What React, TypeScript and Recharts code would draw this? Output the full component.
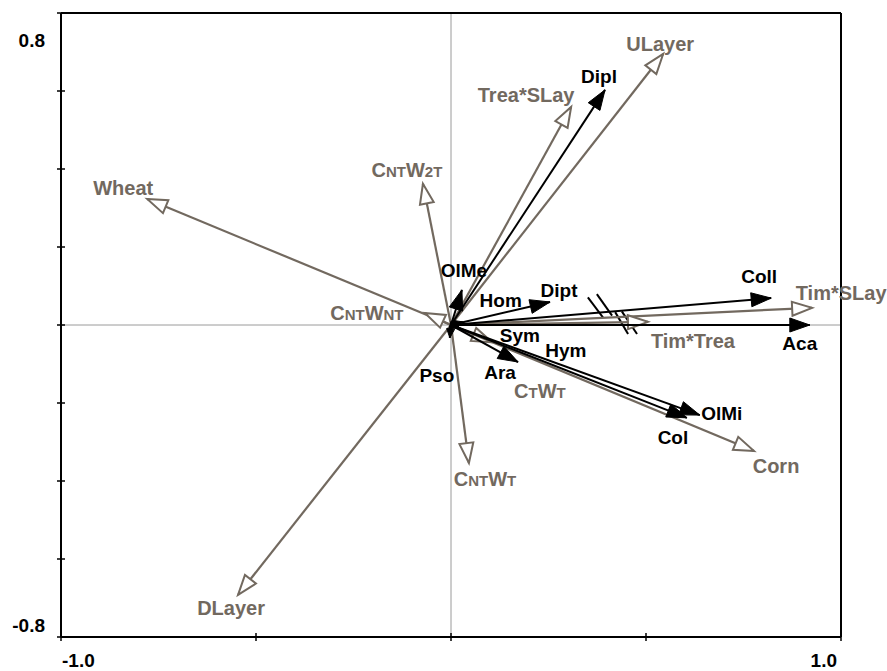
import React from 'react';
import { ScatterChart, Scatter, XAxis, YAxis, ReferenceLine, CartesianGrid } from 'recharts';

const FONT = '"Liberation Sans", Arial, Helvetica, sans-serif';
const GRAY = '#72695f';
const BLACK = '#000000';

// Environmental variables (grey arrows, open heads). {..} marks a subscript.
const envNames = ['Wheat', 'ULayer', 'Trea*SLay', 'C{NT}W{2T}', 'C{NT}W{NT}', 'C{NT}W{T}', 'C{T}W{T}', 'DLayer', 'Corn', 'Tim*SLay', 'Tim*Trea'];
const envX = [-0.779, 0.544, 0.308, -0.072, -0.067, 0.046, 0.105, -0.546, 0.777, 0.926, 0.505];
const envY = [0.323, 0.695, 0.559, 0.362, 0.031, -0.354, -0.044, -0.692, -0.323, 0.044, 0.008];

// Species (black arrows, filled heads)
const spNames = ['Dipl', 'OlMe', 'Hom', 'Dipt', 'Coll', 'Aca', 'Sym', 'Hym', 'OlMi', 'Col', 'Ara', 'Pso'];
const spX = [0.395, 0.028, 0.03, 0.254, 0.821, 0.92, 0.02, 0.02, 0.638, 0.605, 0.172, -0.003];
const spY = [0.603, 0.09, 0.008, 0.059, 0.069, 0.0, -0.005, -0.008, -0.231, -0.238, -0.095, -0.033];

// Axis ticks
const xTicks = [-1, -0.5, 0, 0.5, 1];
const xTickLabels = ['-1.0', '', '', '', '1.0'];
const yTicks = [-0.8, -0.6, -0.4, -0.2, 0, 0.2, 0.4, 0.6, 0.8];
const yTickLabels = ['-0.8', '', '', '', '', '', '', '', '0.8'];

// Break marks (//) on the long arrows
const breakX1 = [0.351, 0.374, 0.421, 0.438];
const breakY1 = [0.071, 0.079, 0.033, 0.035];
const breakX2 = [0.39, 0.413, 0.454, 0.477];
const breakY2 = [0.019, 0.024, -0.023, -0.023];

// Label placement (pixel offsets from arrow tip) — styling only
const envLabelDx = [-24, -3, -45, -16, -58, 16, 48, -7, 22, 29, 45];
const envLabelDy = [-11, -10, -12, -14, 0, 16, 49, 13, 15, -15, 19];
const spLabelDx = [-6, 2, 38, 9, -12, -10, 61, 107, 22, -14, -18, -13];
const spLabelDy = [-14, -20, -22, -12, -22, 18, 8, 22, -2, 19, 10, 37];

type Pt = { x: number; y: number };

const renderHead = (p: any, color: string, open: boolean) => {
  const { cx, cy, payload } = p;
  if (!payload || (payload.x === 0 && payload.y === 0)) return <g />;
  const ux0 = payload.x;
  const uy0 = -payload.y;
  const l = Math.hypot(ux0, uy0);
  const ux = ux0 / l;
  const uy = uy0 / l;
  const L = l < 0.05 ? 9 : 20;
  const W = l < 0.05 ? 4 : 7;
  const bx = cx - ux * L;
  const by = cy - uy * L;
  const pts = `${cx},${cy} ${bx - uy * W},${by + ux * W} ${bx + uy * W},${by - ux * W}`;
  return open ? (
    <polygon points={pts} fill="#ffffff" stroke={color} strokeWidth={2} strokeLinejoin="miter" />
  ) : (
    <polygon points={pts} fill={color} stroke={color} strokeWidth={1} />
  );
};

const renderLabel = (p: any) => {
  const { cx, cy, payload } = p;
  if (!payload) return <g />;
  const parts: string[] = String(payload.name).split(/(\{[^}]*\})/).filter(Boolean);
  return (
    <text
      x={cx + payload.dx}
      y={cy + payload.dy + 7}
      textAnchor="middle"
      fill={payload.color}
      fontSize={payload.size}
      fontWeight="bold"
      fontFamily={FONT}
    >
      {parts.map((s, i) =>
        s.startsWith('{') ? (
          <tspan key={i} fontSize={15}>
            {s.slice(1, -1)}
          </tspan>
        ) : (
          <tspan key={i}>{s}</tspan>
        )
      )}
    </text>
  );
};

const XTick = (p: any) => {
  const { x, y, index } = p;
  const lab = xTickLabels[index];
  return (
    <g>
      <line x1={x} x2={x} y1={y - 4} y2={y + 4} stroke={BLACK} strokeWidth={1.5} />
      {lab ? (
        <text
          x={index === 0 ? x + 1 : x - 4}
          y={y + 30}
          textAnchor={index === 0 ? 'start' : 'end'}
          fontSize={19}
          fontWeight="bold"
          fontFamily={FONT}
          fill={BLACK}
        >
          {lab}
        </text>
      ) : null}
    </g>
  );
};

const YTick = (p: any) => {
  const { x, y, index } = p;
  const lab = yTickLabels[index];
  return (
    <g>
      <line x1={x - 4} x2={x + 4} y1={y} y2={y} stroke={BLACK} strokeWidth={1.5} />
      {lab ? (
        <text
          x={x - 16}
          y={index === 0 ? y - 5 : y + 34}
          textAnchor="end"
          fontSize={19}
          fontWeight="bold"
          fontFamily={FONT}
          fill={BLACK}
        >
          {lab}
        </text>
      ) : null}
    </g>
  );
};

const envData: Pt[][] = envX.map((x, i) => [{ x: 0, y: 0 }, { x, y: envY[i] }]);
const spData: Pt[][] = spX.map((x, i) => [{ x: 0, y: 0 }, { x, y: spY[i] }]);

const labelData = [
  ...envNames.map((name, i) => ({ x: envX[i], y: envY[i], name, dx: envLabelDx[i], dy: envLabelDy[i], color: GRAY, size: 20 })),
  ...spNames.map((name, i) => ({ x: spX[i], y: spY[i], name, dx: spLabelDx[i], dy: spLabelDy[i], color: BLACK, size: 19 })),
];

export default function App() {
  return (
    <div style={{ position: 'absolute', left: 0, top: 0, background: '#fff' }}>
      <ScatterChart width={887} height={671} margin={{ top: 13, right: 46, bottom: 0, left: 21 }}>
        <CartesianGrid horizontalValues={[0]} verticalValues={[0]} stroke="#9a9a9a" strokeWidth={1} />
        <XAxis
          type="number"
          dataKey="x"
          domain={[-1, 1]}
          ticks={xTicks}
          height={34}
          tickSize={0}
          tickMargin={0}
          axisLine={{ stroke: BLACK, strokeWidth: 2 }}
          tickLine={false}
          tick={<XTick />}
          interval={0}
        />
        <YAxis
          type="number"
          dataKey="y"
          domain={[-0.8, 0.8]}
          ticks={yTicks}
          width={40}
          tickSize={0}
          tickMargin={0}
          axisLine={{ stroke: BLACK, strokeWidth: 2 }}
          tickLine={false}
          tick={<YTick />}
          interval={0}
        />
        <ReferenceLine y={0.8} stroke={BLACK} strokeWidth={2} />
        <ReferenceLine x={1} stroke={BLACK} strokeWidth={2} />
        {envData.map((d, i) => (
          <Scatter
            key={'env' + i}
            data={d}
            isAnimationActive={false}
            line={{ stroke: GRAY, strokeWidth: 2.2 }}
            fill={GRAY}
            shape={(p: any) => renderHead(p, GRAY, true)}
          />
        ))}
        {spData.map((d, i) => (
          <Scatter
            key={'sp' + i}
            data={d}
            isAnimationActive={false}
            line={{ stroke: BLACK, strokeWidth: 2 }}
            fill={BLACK}
            shape={(p: any) => renderHead(p, BLACK, false)}
          />
        ))}
        {breakX1.map((x, i) => (
          <ReferenceLine
            key={'br' + i}
            segment={[
              { x, y: breakY1[i] },
              { x: breakX2[i], y: breakY2[i] },
            ]}
            stroke={BLACK}
            strokeWidth={2}
          />
        ))}
        <Scatter data={labelData} isAnimationActive={false} shape={renderLabel} />
      </ScatterChart>
    </div>
  );
}
